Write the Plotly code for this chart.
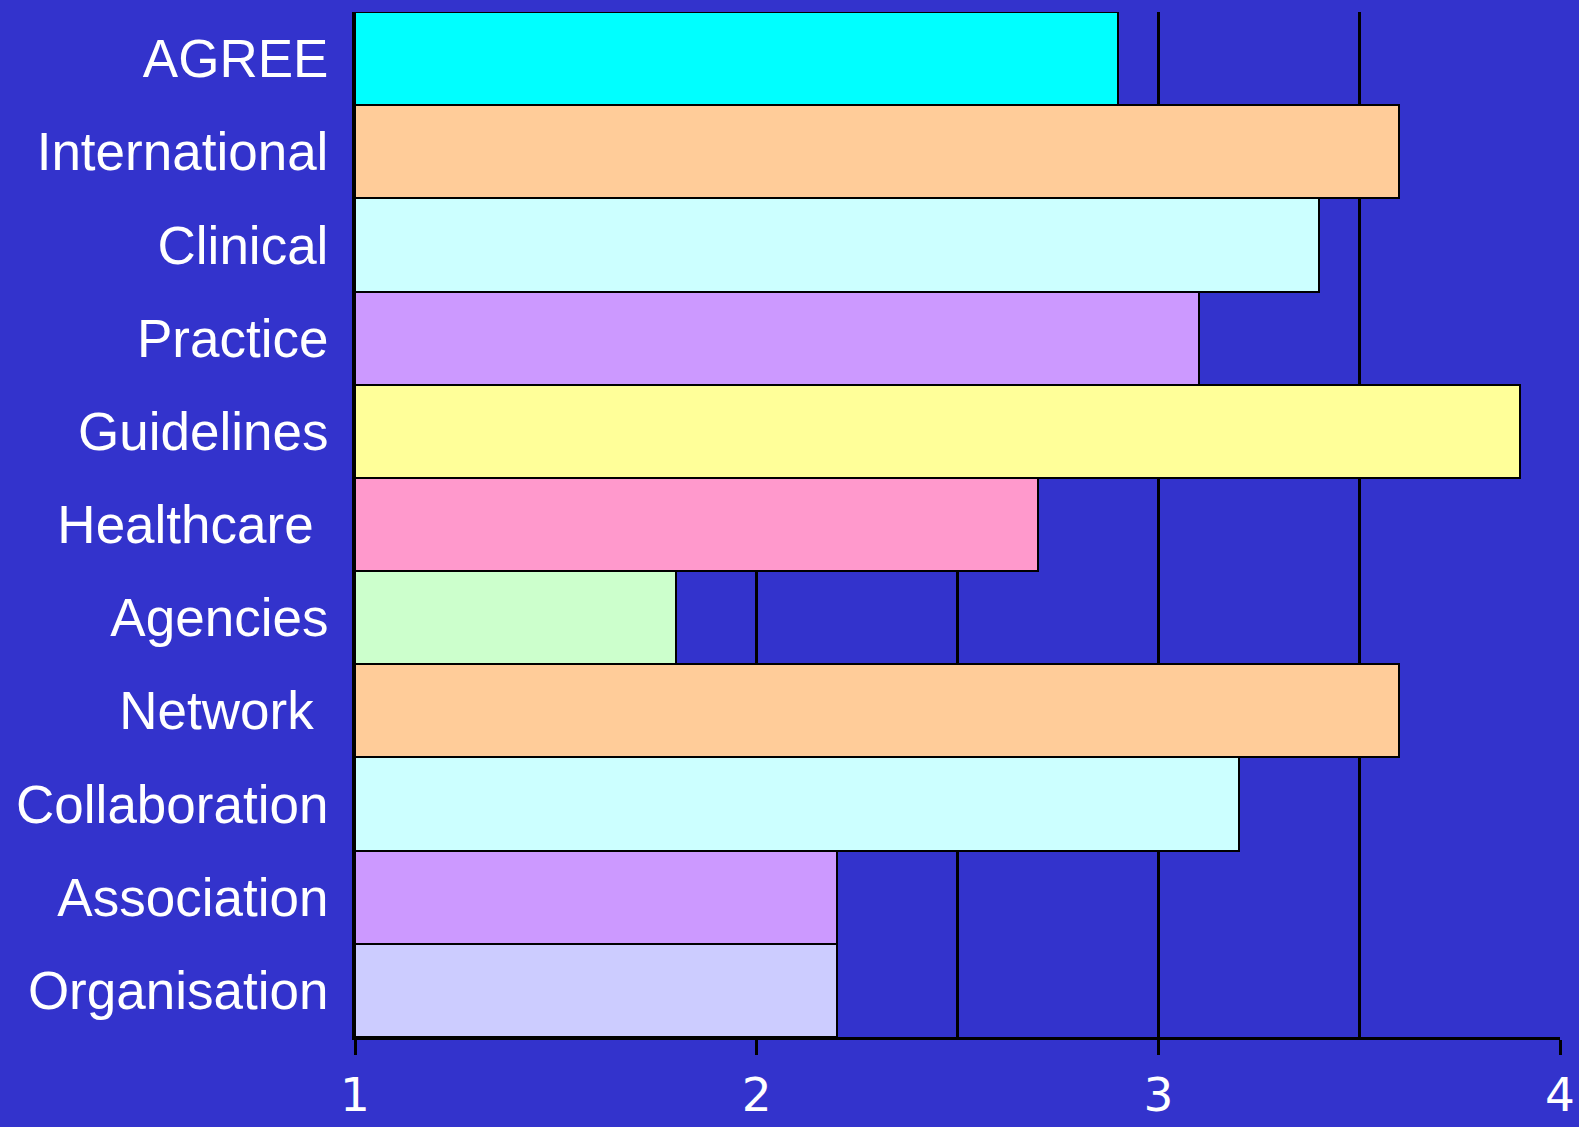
import plotly.graph_objects as go

# Categories listed top to bottom
categories = ["AGREE", "International", "Clinical", "Practice", "Guidelines",
              "Healthcare ", "Agencies", "Network ", "Collaboration",
              "Association", "Organisation"]
values = [2.9, 3.6, 3.4, 3.1, 3.9, 2.7, 1.8, 3.6, 3.2, 2.2, 2.2]
colors = ["#00FFFF", "#FFCC99", "#CCFFFF", "#CC99FF", "#FFFF99", "#FF99CC",
          "#CCFFCC", "#FFCC99", "#CCFFFF", "#CC99FF", "#CCCCFF"]
x_ticks = [1, 2, 3, 4]
x_range = [1, 4]
base_value = 1

bg = "#3333CC"

fig = go.Figure(go.Bar(
    y=categories,
    x=[v - base_value for v in values],
    base=base_value,
    orientation="h",
    marker=dict(color=colors, line=dict(color="black", width=2)),
    hoverinfo="skip",
))

fig.update_layout(
    width=1579, height=1127,
    paper_bgcolor=bg, plot_bgcolor=bg,
    margin=dict(l=355, r=19, t=12, b=90),
    bargap=0,
    showlegend=False,
    xaxis=dict(
        range=x_range,
        automargin=False,
        tickvals=x_ticks,
        ticktext=[str(t) for t in x_ticks],
        showgrid=True, gridcolor="black", gridwidth=3,
        minor=dict(dtick=0.5, tick0=1, showgrid=True, gridcolor="black",
                   gridwidth=3, ticks=""),
        showline=True, linecolor="black", linewidth=3,
        ticks="outside", ticklen=15, tickwidth=3, tickcolor="black",
        tickfont=dict(family="DejaVu Sans", size=47, color="white"),
        ticklabelstandoff=0,
        zeroline=False,
    ),
    yaxis=dict(
        categoryorder="array", categoryarray=categories,
        autorange="reversed",
        automargin=False,
        showline=True, linecolor="black", linewidth=3,
        showgrid=False, ticks="",
        tickfont=dict(family="Liberation Sans, Arial", size=53, color="white"),
        ticklabelstandoff=13,
    ),
)

fig.write_html("out.html")
